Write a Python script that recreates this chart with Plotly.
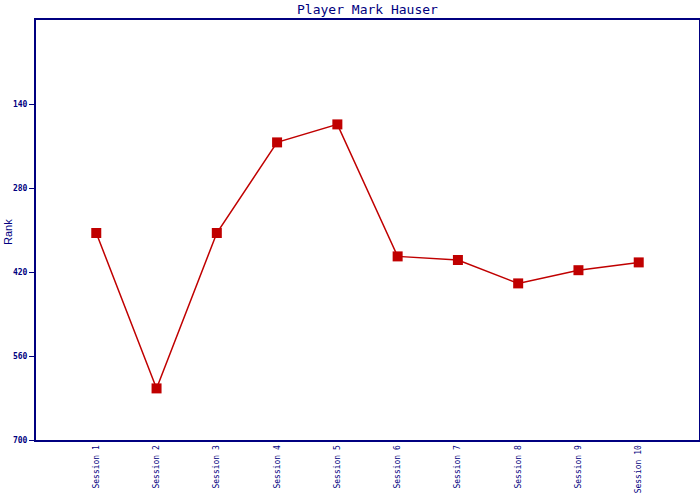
import plotly.graph_objects as go

sessions = ["Session 1", "Session 2", "Session 3", "Session 4", "Session 5",
            "Session 6", "Session 7", "Session 8", "Session 9", "Session 10"]
ranks = [355, 614, 355, 204, 174, 394, 400, 439, 417, 404]
y_ticks = [140, 280, 420, 560, 700]

navy = "#000080"
red = "#C00000"

x_pos = list(range(1, len(sessions) + 1))

fig = go.Figure()
fig.add_trace(go.Scatter(
    x=x_pos, y=ranks, mode="lines+markers",
    line=dict(color=red, width=1.5),
    marker=dict(symbol="square", size=10, color=red),
    showlegend=False,
))

fig.update_layout(
    width=700, height=500,
    margin=dict(l=36, r=1, t=20, b=60, autoexpand=False),
    paper_bgcolor="white", plot_bgcolor="white",
    title=dict(text="Player Mark Hauser", x=(36 + 699) / 2 / 700, xanchor="center",
               y=1 - 9 / 500, yanchor="middle",
               font=dict(family="DejaVu Sans Mono", size=13, color=navy)),
    xaxis=dict(
        range=[0, 11], tickvals=x_pos, ticktext=sessions, tickangle=-90,
        showline=True, linecolor=navy, linewidth=2, mirror=True,
        showgrid=False, zeroline=False, ticks="", automargin=False,
        tickfont=dict(family="DejaVu Sans Mono", size=8, color=navy),
    ),
    yaxis=dict(
        range=[700, 0], tickvals=y_ticks, ticktext=[str(v) for v in y_ticks],
        showline=True, linecolor=navy, linewidth=2, mirror=True,
        showgrid=False, zeroline=False, ticks="outside", ticklen=5, tickcolor=navy,
        tickwidth=1, automargin=False,
        tickfont=dict(family="DejaVu Sans Mono", size=8, color=navy, weight="bold"),
    ),
    annotations=[dict(
        text="Rank", xref="paper", yref="paper",
        x=(8 - 36) / 663, y=(440 - 232) / 420, showarrow=False,
        textangle=-90, xanchor="center", yanchor="middle",
        font=dict(family="Liberation Sans", size=11, color=navy),
    )],
)

fig.write_html("out.html", config={"displayModeBar": False},
               post_script="document.body.style.margin='0';document.body.style.padding='0';")
